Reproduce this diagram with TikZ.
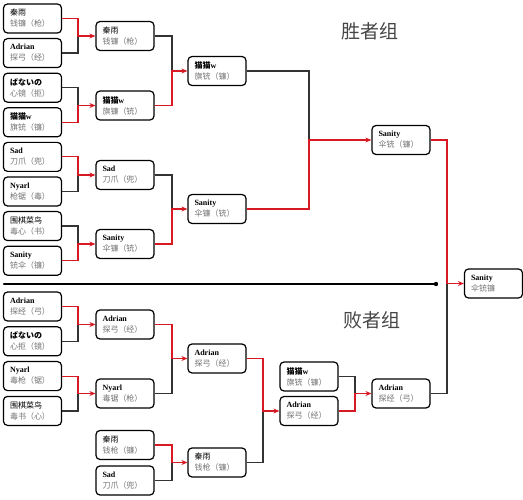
\documentclass[tikz,border=0pt]{standalone}
\usepackage{fontspec}
\setmainfont{Liberation Serif}
\newfontfamily\cjk{Noto Sans CJK SC}
\usetikzlibrary{arrows.meta}
\definecolor{wred}{RGB}{215,25,35}
\definecolor{txtgray}{RGB}{115,115,115}
\definecolor{ttl}{RGB}{70,70,70}
\newcommand\bk[2]{#1\\{\color{txtgray}\cjk #2}}
\newcommand\nm[1]{\textbf{#1}}
\newcommand\cn[1]{{\cjk #1}}
\newcommand\cnb[1]{{\cjk\bfseries #1}}
\begin{document}
\begin{tikzpicture}[x=1pt,y=-1pt,
  pbox/.style={draw, line width=1.2pt, rounded corners=4pt, fill=white,
    inner xsep=6.5pt, inner ysep=0pt, text width=45pt, minimum height=29pt,
    align=left, font=\fontsize{8}{11}\selectfont, anchor=center},
  win/.style={draw=wred, line width=1.2pt},
  lose/.style={draw=black!80, line width=1.2pt},
  arr/.style={-{Stealth[length=6pt,width=5pt]}},
  ttlstyle/.style={font=\cjk\fontsize{19}{19}\selectfont, text=ttl, inner sep=0pt}]
\useasboundingbox (0,0) rectangle (523,500);

% titles
\node[ttlstyle] (tw) at (370,31) {胜者组};
\node[ttlstyle] (tl) at (372,320) {败者组};

% separator
\coordinate (s1) at (4,284);
\coordinate (s2) at (436,284);
\draw[line width=2.6pt, line cap=round] (s1) -- (s2);
\fill (s2) circle (2.2pt);

% ===== winners bracket =====
\node[pbox] (w1) at (32.5,18.5) {\bk{\cn{秦雨}}{钱镰（枪）}};
\node[pbox] (w2) at (32.5,53.1) {\bk{\nm{Adrian}}{探弓（经）}};
\node[pbox] (w3) at (32.5,87.7) {\bk{\cnb{ばないの}}{心镜（拒）}};
\node[pbox] (w4) at (32.5,122.3) {\bk{\cnb{猫猫}\nm{w}}{旗铳（镰）}};
\node[pbox] (w5) at (32.5,156.9) {\bk{\nm{Sad}}{刀爪（兜）}};
\node[pbox] (w6) at (32.5,191.5) {\bk{\nm{Nyarl}}{枪锯（毒）}};
\node[pbox] (w7) at (32.5,226.1) {\bk{\cn{围棋菜鸟}}{毒心（书）}};
\node[pbox] (w8) at (32.5,260.7) {\bk{\nm{Sanity}}{铳伞（镰）}};

\node[pbox] (v1) at (125,36) {\bk{\cn{秦雨}}{钱镰（枪）}};
\node[pbox] (v2) at (125,105.5) {\bk{\cnb{猫猫}\nm{w}}{旗镰（铳）}};
\node[pbox] (v3) at (125,175) {\bk{\nm{Sad}}{刀爪（兜）}};
\node[pbox] (v4) at (125,244) {\bk{\nm{Sanity}}{伞镰（铳）}};

\node[pbox] (u1) at (217,71) {\bk{\cnb{猫猫}\nm{w}}{旗铳（镰）}};
\node[pbox] (u2) at (217,209) {\bk{\nm{Sanity}}{伞镰（铳）}};

\node[pbox] (t1) at (401,140) {\bk{\nm{Sanity}}{伞铳（镰）}};

% ===== losers bracket =====
\node[pbox] (l1) at (32.5,306.5) {\bk{\nm{Adrian}}{探经（弓）}};
\node[pbox] (l2) at (32.5,341.3) {\bk{\cnb{ばないの}}{心拒（镜）}};
\node[pbox] (l3) at (32.5,376.1) {\bk{\nm{Nyarl}}{毒枪（锯）}};
\node[pbox] (l4) at (32.5,410.9) {\bk{\cn{围棋菜鸟}}{毒书（心）}};

\node[pbox] (m1) at (125,324.5) {\bk{\nm{Adrian}}{探弓（经）}};
\node[pbox] (m2) at (125,393.5) {\bk{\nm{Nyarl}}{毒锯（枪）}};
\node[pbox] (m3) at (125,445) {\bk{\cn{秦雨}}{钱枪（镰）}};
\node[pbox] (m4) at (125,480.5) {\bk{\nm{Sad}}{刀爪（兜）}};

\node[pbox] (n1) at (217,358.5) {\bk{\nm{Adrian}}{探弓（经）}};
\node[pbox] (n2) at (217,462.5) {\bk{\cn{秦雨}}{钱枪（镰）}};

\node[pbox] (o1) at (309,376.5) {\bk{\cnb{猫猫}\nm{w}}{旗铳（镰）}};
\node[pbox] (o2) at (309,411) {\bk{\nm{Adrian}}{探弓（经）}};

\node[pbox] (p1) at (401,393.5) {\bk{\nm{Adrian}}{探经（弓）}};

\node[pbox] (fin) at (493.5,283.5) {\bk{\nm{Sanity}}{伞铳镰}};

% junction coordinates
\coordinate (jw1) at (78,36);
\coordinate (jw2) at (78,105.5);
\coordinate (jw3) at (78,175);
\coordinate (jw4) at (78,244);
\coordinate (jv1) at (172,71);
\coordinate (jv2) at (172,209);
\coordinate (ju1) at (309,140);
\coordinate (jl1) at (78,324.5);
\coordinate (jl2) at (78,393.5);
\coordinate (jm1) at (172,358.5);
\coordinate (jm2) at (172,462.5);
\coordinate (jn1) at (263,411);
\coordinate (jo1) at (355,393.5);
\coordinate (jf) at (447,283.5);

% losers' lines (black)
\draw[lose] (w2.east) -| (jw1);
\draw[lose] (w3.east) -| (jw2);
\draw[lose] (w6.east) -| (jw3);
\draw[lose] (w7.east) -| (jw4);
\draw[lose] (v1.east) -| (jv1);
\draw[lose] (v3.east) -| (jv2);
\draw[lose] (u1.east) -| (ju1);
\draw[lose] (l2.east) -| (jl1);
\draw[lose] (l4.east) -| (jl2);
\draw[lose] (m2.east) -| (jm1);
\draw[lose] (m4.east) -| (jm2);
\draw[lose] (n2.east) -| (jn1);
\draw[lose] (o1.east) -| (jo1);
\draw[lose] (p1.east) -| (jf);

% winners' lines (red)
\draw[win,arr] (w1.east) -| (jw1) -- (v1.west);
\draw[win,arr] (w4.east) -| (jw2) -- (v2.west);
\draw[win,arr] (w5.east) -| (jw3) -- (v3.west);
\draw[win,arr] (w8.east) -| (jw4) -- (v4.west);
\draw[win,arr] (v2.east) -| (jv1) -- (u1.west);
\draw[win,arr] (v4.east) -| (jv2) -- (u2.west);
\draw[win,arr] (u2.east) -| (ju1) -- (t1.west);
\draw[win,arr] (l1.east) -| (jl1) -- (m1.west);
\draw[win,arr] (l3.east) -| (jl2) -- (m2.west);
\draw[win,arr] (m1.east) -| (jm1) -- (n1.west);
\draw[win,arr] (m3.east) -| (jm2) -- (n2.west);
\draw[win,arr] (n1.east) -| (jn1) -- (o2.west);
\draw[win,arr] (o2.east) -| (jo1) -- (p1.west);
\draw[win,arr] (t1.east) -| (jf) -- (fin.west);
\end{tikzpicture}
\end{document}
